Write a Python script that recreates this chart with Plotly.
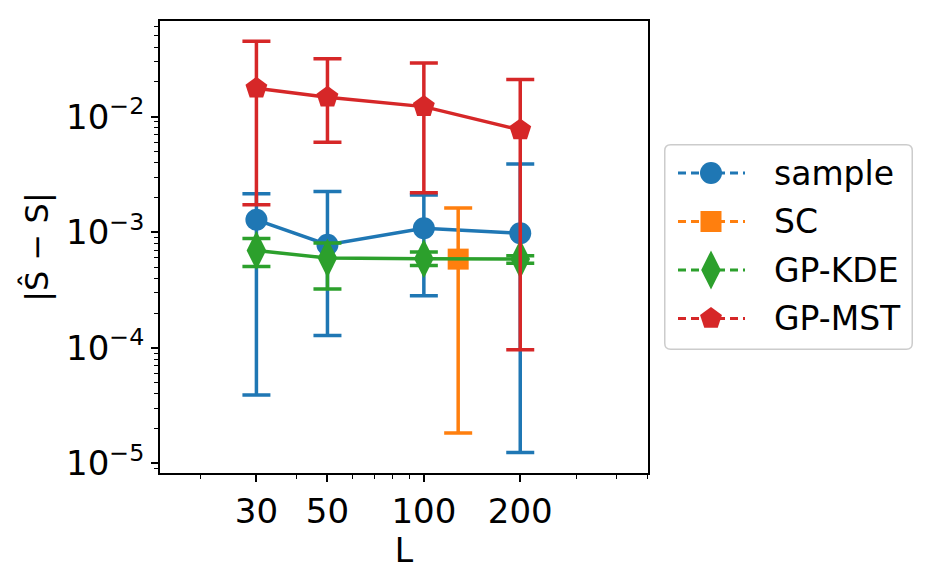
import plotly.graph_objects as go

L = [30, 50, 100, 200]

sample_y = [1.28e-3, 7.8e-4, 1.08e-3, 9.8e-4]
sample_hi = [2.15e-3, 2.25e-3, 2.1e-3, 3.9e-3]
sample_lo = [3.9e-5, 1.28e-4, 2.82e-4, 1.24e-5]

sc_L = [128]
sc_y = [5.85e-4]
sc_hi = [1.62e-3]
sc_lo = [1.83e-5]

kde_y = [6.95e-4, 5.97e-4, 5.9e-4, 5.85e-4]
kde_hi = [8.83e-4, 8.05e-4, 6.73e-4, 6.25e-4]
kde_lo = [5.06e-4, 3.22e-4, 5.15e-4, 5.4e-4]

mst_y = [1.76e-2, 1.47e-2, 1.22e-2, 7.67e-3]
mst_hi = [4.49e-2, 3.17e-2, 2.91e-2, 2.09e-2]
mst_lo = [1.73e-3, 6.0e-3, 2.19e-3, 9.64e-5]

x_ticks = [30, 50, 100, 200]
x_minor = [20, 40, 60, 70, 80, 90, 300, 400, 500]
y_ticks = [1e-5, 1e-4, 1e-3, 1e-2]
y_ticktext = ["10<sup>−5</sup>", "10<sup>−4</sup>", "10<sup>−3</sup>", "10<sup>−2</sup>"]
y_minor = [m * 10.0 ** e for e in range(-6, 0) for m in range(2, 10)]

series = [
    ("sample", L, sample_y, sample_hi, sample_lo, "#1f77b4", "circle", 22),
    ("SC", sc_L, sc_y, sc_hi, sc_lo, "#ff7f0e", "square", 21),
    ("GP-KDE", L, kde_y, kde_hi, kde_lo, "#2ca02c", "diamond-tall", 28),
    ("GP-MST", L, mst_y, mst_hi, mst_lo, "#d62728", "pentagon", 23),
]

W, H = 928, 578
# plot area in pixels
PL, PR, PT, PB = 160, 648, 21, 473
# legend box in pixels
LL, LR, LT, LB = 664, 913, 144, 350
LW, LH = LR - LL, LB - LT

fig = go.Figure()
for name, xs, ys, hi, lo, col, sym, sz in series:
    fig.add_trace(go.Scatter(
        x=xs, y=ys, mode="lines+markers", name=name, showlegend=False,
        line=dict(color=col, width=3.5),
        marker=dict(color=col, symbol=sym, size=sz, line=dict(width=0)),
        error_y=dict(type="data", symmetric=False,
                     array=[h - v for h, v in zip(hi, ys)],
                     arrayminus=[v - l for l, v in zip(lo, ys)],
                     color=col, thickness=3.5, width=14),
        xaxis="x", yaxis="y",
    ))

# custom legend drawn in its own small axes (pixel units)
row_gap = 48.5
first_row = 29
for i, (name, xs, ys, hi, lo, col, sym, sz) in enumerate(series):
    yc = LH - (first_row + i * row_gap)
    fig.add_trace(go.Scatter(
        x=[14, 47, 81], y=[yc, yc, yc], mode="lines", showlegend=False,
        line=dict(color=col, width=3, dash="8px,5px"),
        xaxis="x2", yaxis="y2", hoverinfo="skip",
    ))
    fig.add_trace(go.Scatter(
        x=[47], y=[yc], mode="markers", showlegend=False,
        marker=dict(color=col, symbol=sym, size=sz, line=dict(width=0)),
        xaxis="x2", yaxis="y2", hoverinfo="skip",
    ))
    fig.add_annotation(x=108, y=yc, xref="x2", yref="y2", text=name,
                       showarrow=False, xanchor="left", yanchor="middle",
                       font=dict(size=33, color="black"))

r = 6
b = 0.75
path = (f"M {b + r},{b} L {LW - b - r},{b} Q {LW - b},{b} {LW - b},{b + r} "
        f"L {LW - b},{LH - b - r} Q {LW - b},{LH - b} {LW - b - r},{LH - b} "
        f"L {b + r},{LH - b} Q {b},{LH - b} {b},{LH - b - r} "
        f"L {b},{b + r} Q {b},{b} {b + r},{b} Z")
fig.add_shape(type="path", path=path, xref="x2", yref="y2",
              line=dict(color="#cccccc", width=1.5), fillcolor="rgba(0,0,0,0)",
              layer="below")

axis_common = dict(showline=True, linecolor="black", linewidth=1.5, mirror=True,
                   ticks="outside", ticklen=7, tickwidth=1.5, tickcolor="black",
                   showgrid=False, zeroline=False, tickfont=dict(size=34),
                   automargin=False)

fig.update_layout(
    xaxis=dict(type="log", range=[1.176, 2.70], tickmode="array",
               domain=[PL / W, PR / W],
               tickvals=x_ticks, ticktext=[str(v) for v in x_ticks],
               minor=dict(tickmode="array", tickvals=x_minor, ticks="outside",
                          ticklen=4, tickwidth=1, tickcolor="black"),
               title=dict(text="L", font=dict(size=33), standoff=1),
               **axis_common),
    yaxis=dict(type="log", range=[-5.083, -1.173], tickmode="array",
               domain=[(H - PB) / H, (H - PT) / H],
               tickvals=y_ticks, ticktext=y_ticktext,
               minor=dict(tickmode="array", tickvals=y_minor, ticks="outside",
                          ticklen=4, tickwidth=1, tickcolor="black"),
               title=dict(text="|Ŝ − S|", font=dict(size=32), standoff=8),
               **axis_common),
    xaxis2=dict(domain=[LL / W, LR / W], range=[0, LW], visible=False,
                fixedrange=True, anchor="y2"),
    yaxis2=dict(domain=[(H - LB) / H, (H - LT) / H], range=[0, LH], visible=False,
                fixedrange=True, anchor="x2"),
    width=W, height=H,
    margin=dict(l=0, r=0, t=0, b=0),
    paper_bgcolor="white", plot_bgcolor="rgba(0,0,0,0)",
    font=dict(family="DejaVu Sans", size=33, color="black"),
    showlegend=False,
)

fig.write_html("out.html")
